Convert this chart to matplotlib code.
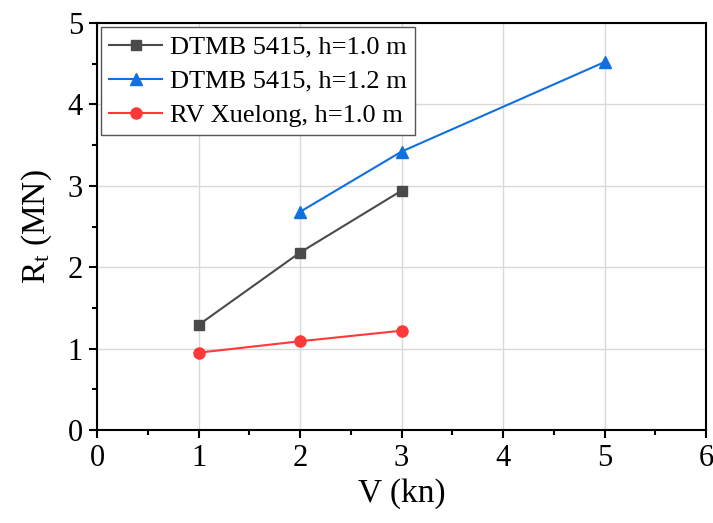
import matplotlib
matplotlib.use("Agg")
import matplotlib.pyplot as plt
from matplotlib.ticker import MultipleLocator

plt.rcParams['font.family'] = ['Liberation Serif', 'DejaVu Serif']
plt.rcParams['mathtext.fontset'] = 'custom'
plt.rcParams['mathtext.rm'] = 'Liberation Serif'
plt.rcParams['mathtext.it'] = 'Liberation Serif'

v_dtmb_10 = [1, 2, 3]
rt_dtmb_10 = [1.29, 2.18, 2.94]
v_dtmb_12 = [2, 3, 5]
rt_dtmb_12 = [2.68, 3.42, 4.52]
v_xuelong = [1, 2, 3]
rt_xuelong = [0.95, 1.09, 1.22]
labels = ["DTMB 5415, h=1.0 m", "DTMB 5415, h=1.2 m", "RV Xuelong, h=1.0 m"]

fig = plt.figure(figsize=(7.13, 5.23), dpi=100)
ax = fig.add_axes([97/713, 1 - 430/523, 609/713, 407/523])

ax.plot(v_dtmb_10, rt_dtmb_10, color='#4a4a4a', marker='s', markersize=7, lw=1.5, label=labels[0])
ax.plot(v_dtmb_12, rt_dtmb_12, color='#1070e0', marker='^', markersize=8, lw=1.5, label=labels[1])
ax.plot(v_xuelong, rt_xuelong, color='#ff3838', marker='o', markersize=8, lw=1.5, label=labels[2])

ax.set_xlim(0, 6)
ax.set_ylim(0, 5)
ax.xaxis.set_major_locator(MultipleLocator(1))
ax.xaxis.set_minor_locator(MultipleLocator(0.5))
ax.yaxis.set_major_locator(MultipleLocator(1))
ax.yaxis.set_minor_locator(MultipleLocator(0.5))
ax.grid(True, which='major', color='#d9d9d9', lw=1)
ax.set_axisbelow(True)
ax.tick_params(which='major', direction='out', length=6, width=1.5, labelsize=22, pad=4)
ax.tick_params(which='minor', direction='out', length=3.5, width=1.5)
for s in ax.spines.values():
    s.set_linewidth(1.5)

ax.set_xlabel('V (kn)', fontsize=24, labelpad=4)
ax.set_ylabel(r'R$_\mathrm{t}$ (MN)', fontsize=24, labelpad=10)

leg = ax.legend(loc='upper left', fontsize=19, frameon=True, fancybox=False,
                edgecolor='#555555', framealpha=1, handlelength=2.0,
                borderpad=0.3, labelspacing=0.4, handletextpad=0.3,
                borderaxespad=0.17)
leg.get_frame().set_linewidth(1.0)

fig.savefig('out.png', dpi=100)
